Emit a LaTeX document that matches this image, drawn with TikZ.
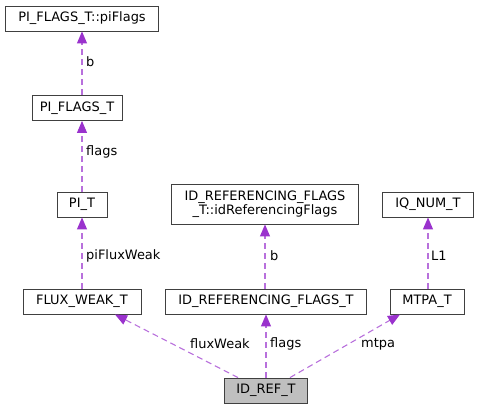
\documentclass[tikz,border=0pt]{standalone}
\usepackage{fontspec}
\setmainfont{DejaVu Sans}
\usetikzlibrary{arrows.meta}
\definecolor{edgec}{HTML}{9A32CD}
\definecolor{boxc}{HTML}{404040}
\definecolor{curfill}{HTML}{BFBFBF}
\begin{document}
\begin{tikzpicture}[x=1bp,y=-1bp,
  box/.style={draw=boxc, line width=0.9bp, fill=white, inner sep=0pt, minimum height=25bp,
    font=\fontsize{13}{14.3}\selectfont, align=center},
  edge/.style={draw=edgec!70!white, line width=1.1bp, dash pattern=on 6bp off 4bp,
    -{Triangle[length=12bp,width=10bp,color=edgec]}},
  lbl/.style={font=\fontsize{13}{14.3}\selectfont, anchor=west, inner sep=0pt}]
\useasboundingbox (0,0) rectangle (478,409);
\node[box, minimum width=153bp] (piflags) at (82,18.5) {PI\_FLAGS\_T::piFlags};
\node[box, minimum width=90bp] (pif) at (77,108) {PI\_FLAGS\_T};
\node[box, minimum width=50bp] (pit) at (82,204.5) {PI\_T};
\node[box, minimum width=118bp] (flux) at (82,301.5) {FLUX\_WEAK\_T};
\node[box, minimum width=187bp, minimum height=40bp] (idrff) at (265,204) {ID\_REFERENCING\_FLAGS\\\_T::idReferencingFlags};
\node[box, minimum width=91bp] (iq) at (428,204.5) {IQ\_NUM\_T};
\node[box, minimum width=201bp] (idrf) at (266,301.5) {ID\_REFERENCING\_FLAGS\_T};
\node[box, minimum width=74bp] (mtpa) at (427,301.5) {MTPA\_T};
\node[box, minimum width=83bp, fill=curfill] (idref) at (266,390.5) {ID\_REF\_T};

\draw[edge] (pif.north -| piflags.south) -- (piflags.south);
\draw[edge] (pit.north) -- (pit.north |- pif.south);
\draw[edge] (flux.north) -- (pit.south);
\draw[edge] (idrf.north -| idrff.south) -- (idrff.south);
\draw[edge] (mtpa.north -| iq.south) -- (iq.south);
\draw[edge] (idref.north) -- (idref.north |- idrf.south);
\draw[edge] ([xshift=-28bp]idref.north) -- ([xshift=33bp]flux.south);
\draw[edge] ([xshift=24bp]idref.north) -- ([xshift=-27bp]mtpa.south);

\node[lbl] (l1) at (86,62) {b};
\node[lbl] (l2) at (86,152) {flags};
\node[lbl] (l3) at (86,256) {piFluxWeak};
\node[lbl] (l4) at (270,256) {b};
\node[lbl] (l5) at (431,256) {L1};
\node[lbl] (l6) at (190,344) {fluxWeak};
\node[lbl] (l7) at (270,344) {flags};
\node[lbl] (l8) at (361,344) {mtpa};
\end{tikzpicture}
\end{document}
